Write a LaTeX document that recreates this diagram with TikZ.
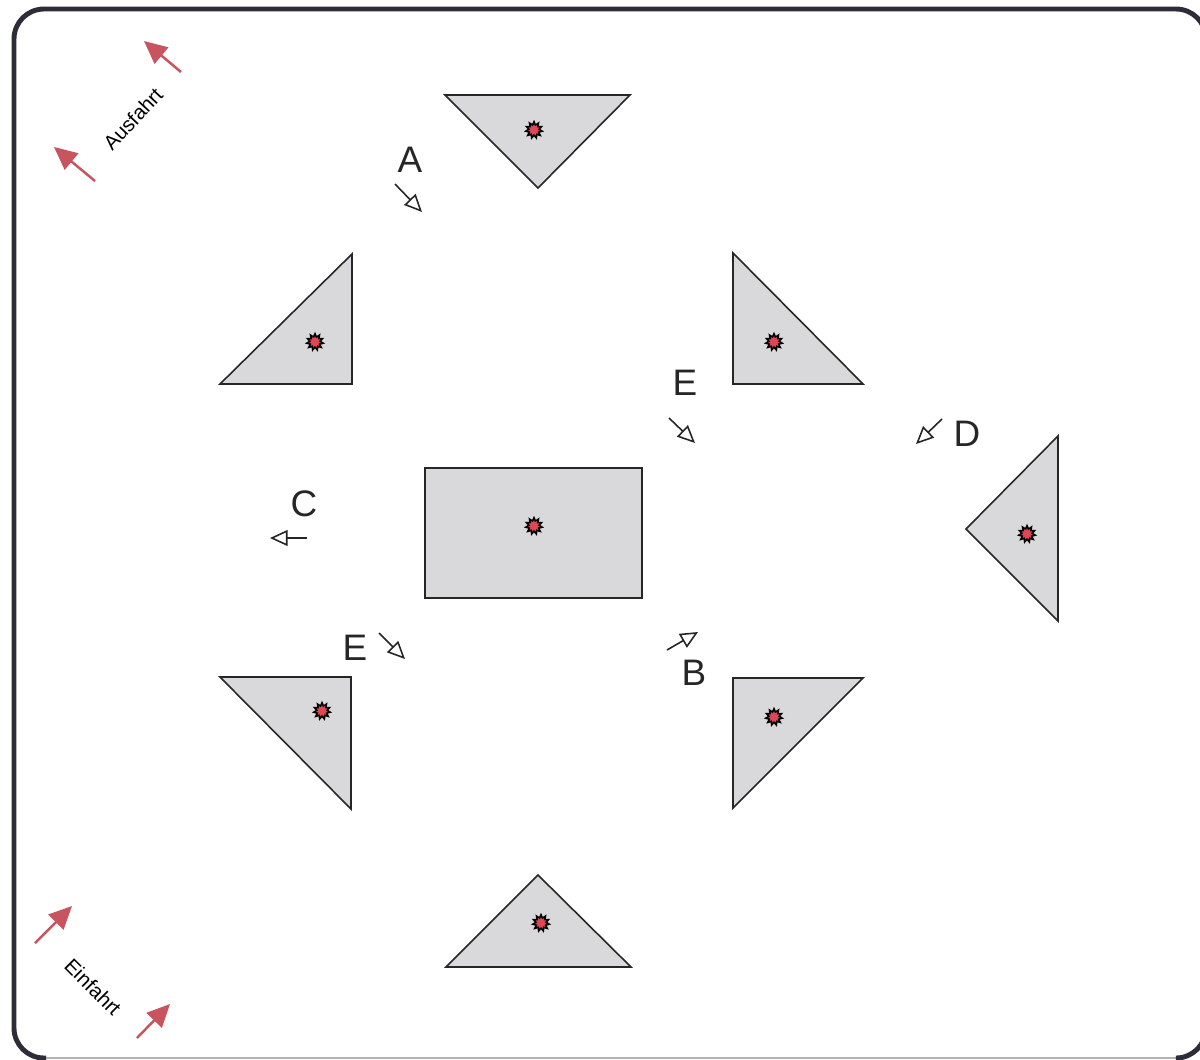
\documentclass[tikz,border=0pt]{standalone}
\usepackage{fontspec}
\setmainfont{Liberation Sans}
\usetikzlibrary{arrows.meta, shapes.geometric}
\definecolor{islandcolor}{RGB}{217,217,219}
\definecolor{exitcolor}{RGB}{200,84,96}
\definecolor{framecolor}{RGB}{45,45,58}
\definecolor{markcolor}{RGB}{224,70,84}

\begin{document}
\begin{tikzpicture}[
    x=0.02cm, y=-0.02cm,
    island/.style={draw=black!85, fill=islandcolor, line width=0.9pt, line join=miter},
    marker/.style={star, star points=11, star point ratio=1.6, draw=black, fill=markcolor,
                   line width=0.9pt, inner sep=0pt, minimum size=0.33cm},
    letter/.style={font=\fontsize{21pt}{21pt}\selectfont, text=black!85, inner sep=0pt},
    signtext/.style={font=\fontsize{11.6pt}{12pt}\selectfont, inner sep=0pt},
    arr/.style={-{Triangle[open, length=10pt, width=9pt]}, line width=0.9pt, black!85},
    exitarr/.style={-{Triangle[length=13pt, width=12pt]}, line width=1.4pt, exitcolor},
]
\useasboundingbox (0,0) rectangle (1200,1059);
\fill[white] (0,0) rectangle (1200,1059);

%% -- frame --
\draw[black!30, line width=1pt] (40,1058) -- (1176,1058);
\draw[framecolor, line width=2.8pt, rounded corners=0.6cm]
  (1206,60) -- (1206,9) -- (14,9) -- (14,1058) -- (46,1058);
\draw[framecolor, line width=2.8pt, rounded corners=0.6cm]
  (1178,1058) -- (1206,1058) -- (1206,1020);

%% -- islands --
\draw[island] (445,95) -- (630,95) -- (538,188) -- cycle;
\draw[island] (352,254) -- (352,384) -- (220,384) -- cycle;
\draw[island] (733,253) -- (863,384) -- (733,384) -- cycle;
\draw[island] (1058,436) -- (1058,621) -- (966,529) -- cycle;
\draw[island] (425,468) rectangle (642,598);
\draw[island] (220,677) -- (351,677) -- (351,809) -- cycle;
\draw[island] (733,678) -- (863,678) -- (733,808) -- cycle;
\draw[island] (538,875) -- (631,967) -- (446,967) -- cycle;

%% -- markers --
\node[marker] (m1) at (534,130) {};
\node[marker] (m2) at (315,342) {};
\node[marker] (m3) at (774,342) {};
\node[marker] (m4) at (1027,534) {};
\node[marker] (m5) at (534,526) {};
\node[marker] (m6) at (322,711) {};
\node[marker] (m7) at (774,717) {};
\node[marker] (m8) at (541,923) {};

%% -- letters --
\node[letter] (labelA) at (410,160) {A};
\node[letter] (labelB) at (694,673) {B};
\node[letter] (labelC) at (304,504) {C};
\node[letter] (labelD) at (967,434) {D};
\node[letter] (labelE) at (685,383) {E};
\node[letter] (labelF) at (355,648) {E};

%% -- direction arrows --
\coordinate (a0) at (395,184); \coordinate (a1) at (422,212);
\coordinate (b0) at (667,650); \coordinate (b1) at (698,632);
\coordinate (c0) at (307,538); \coordinate (c1) at (270,538);
\coordinate (d0) at (942,419); \coordinate (d1) at (916,444);
\coordinate (e0) at (669,418); \coordinate (e1) at (695,443);
\coordinate (f0) at (379,633); \coordinate (f1) at (405,659);
\draw[arr] (a0) -- (a1);
\draw[arr] (b0) -- (b1);
\draw[arr] (c0) -- (c1);
\draw[arr] (d0) -- (d1);
\draw[arr] (e0) -- (e1);
\draw[arr] (f0) -- (f1);

%% -- exit and entry --
\coordinate (x0) at (181,72); \coordinate (x1) at (144,41);
\coordinate (y0) at (95,181); \coordinate (y1) at (54,147);
\coordinate (p0) at (35,943); \coordinate (p1) at (72,906);
\coordinate (q0) at (137,1038); \coordinate (q1) at (170,1004);
\draw[exitarr] (x0) -- (x1);
\draw[exitarr] (y0) -- (y1);
\draw[exitarr] (p0) -- (p1);
\draw[exitarr] (q0) -- (q1);
\node[signtext, rotate=47] (ausfahrt) at (133,119) {Ausfahrt};
\node[signtext, rotate=-45] (einfahrt) at (93,987) {Einfahrt};

\end{tikzpicture}
\end{document}
